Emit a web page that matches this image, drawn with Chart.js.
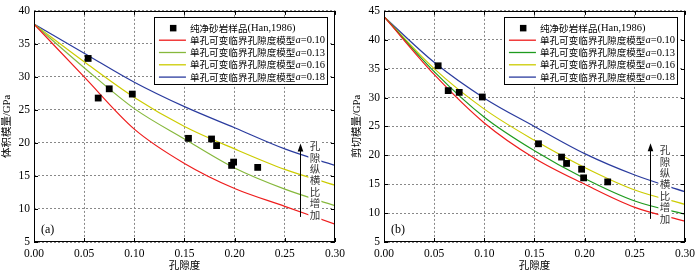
<!DOCTYPE html>
<html>
<head>
<meta charset="utf-8">
<script src="https://cdn.jsdelivr.net/npm/chart.js@4.4.0/dist/chart.umd.min.js"></script>
<style>
  html, body { margin: 0; padding: 0; background: #fff; }
  #wrap { display: flex; width: 700px; height: 273px; }
  canvas { display: block; }
</style>
</head>
<body>
<div id="wrap">
  <canvas id="bulkChart" width="350" height="273"></canvas>
  <canvas id="shearChart" width="350" height="273"></canvas>
</div>
<script>
// porosity grid of the model curves
const modelPorosity = [0, 0.05, 0.10, 0.15, 0.20, 0.25, 0.30];
const aspectRatios = ['0.10', '0.13', '0.16', '0.18'];

// bulk modulus (GPa) of the model, one array per aspect ratio
const bulkA010 = [38, 30.0, 22.1, 16.9, 13.1, 10.4, 7.7];
const bulkA013 = [38, 31.4, 25.2, 20.6, 16.2, 13.0, 10.5];
const bulkA016 = [38, 32.3, 26.9, 22.5, 19.1, 16.0, 13.6];
const bulkA018 = [38, 33.6, 29.2, 25.5, 22.3, 19.1, 16.6];

// shear modulus (GPa) of the model
const shearA010 = [44, 34.0, 25.6, 19.5, 15.0, 11.0, 8.6];
const shearA013 = [44, 34.5, 26.6, 20.8, 16.0, 12.1, 9.8];
const shearA016 = [44, 35.0, 28.0, 22.6, 17.9, 14.0, 11.5];
const shearA018 = [44, 36.1, 29.9, 25.0, 20.3, 16.6, 13.7];

// clean sandstone samples (Han, 1986)
const samplePorosity = [0.054, 0.064, 0.075, 0.098, 0.154, 0.177, 0.182, 0.197, 0.199, 0.223];
const sampleBulk = [32.8, 26.8, 28.2, 27.4, 20.7, 20.6, 19.6, 16.6, 17.1, 16.3];
const sampleShear = [35.5, 31.2, 30.9, 30.1, 22.0, 19.7, 18.6, 17.6, 16.1, 15.4];

const sampleLabel = '纯净砂岩样品(Han,1986)';
const modelLabel = '单孔可变临界孔隙度模型';
const xTitle = '孔隙度';
const noteText = '孔隙纵横比增加';

const latin = "'Liberation Serif', 'Times New Roman', serif";
const cjk = "'Noto Sans CJK SC', sans-serif";
const mixed = "'Liberation Serif', 'Noto Sans CJK SC', serif";

function toPoints(xs, ys) {
    return xs.map((x, i) => ({ x: x, y: ys[i] }));
}

// frame, inward ticks, legend box, arrow and titles
const decorPlugin = {
    id: 'decor',
    afterDraw(chart, args, opts) {
        const ctx = chart.ctx;
        const a = chart.chartArea;
        const xs = chart.scales.x, ys = chart.scales.y;
        ctx.save();

        // frame
        ctx.strokeStyle = '#000';
        ctx.lineWidth = 1;
        ctx.strokeRect(Math.round(a.left) + 0.5, Math.round(a.top) + 0.5,
            Math.round(a.right - a.left) - 1, Math.round(a.bottom - a.top) - 1);

        // inward tick marks on all four sides
        ctx.beginPath();
        xs.ticks.forEach(t => {
            const px = Math.round(xs.getPixelForValue(t.value)) + 0.5;
            ctx.moveTo(px, a.bottom); ctx.lineTo(px, a.bottom - 4);
            ctx.moveTo(px, a.top); ctx.lineTo(px, a.top + 4);
        });
        ys.ticks.forEach(t => {
            const py = Math.round(ys.getPixelForValue(t.value)) + 0.5;
            ctx.moveTo(a.left, py); ctx.lineTo(a.left + 4, py);
            ctx.moveTo(a.right, py); ctx.lineTo(a.right - 4, py);
        });
        ctx.stroke();

        // arrow
        const ax = Math.round(xs.getPixelForValue(opts.arrowX)) + 0.5;
        const ay0 = ys.getPixelForValue(opts.arrowFrom);
        const ay1 = ys.getPixelForValue(opts.arrowTo);
        ctx.beginPath();
        ctx.moveTo(ax, ay0); ctx.lineTo(ax, ay1 + 6);
        ctx.stroke();
        ctx.fillStyle = '#000';
        ctx.beginPath();
        ctx.moveTo(ax, ay1);
        ctx.lineTo(ax - 2.8, ay1 + 8);
        ctx.lineTo(ax + 2.8, ay1 + 8);
        ctx.closePath();
        ctx.fill();

        // vertical note with white background
        const nx = xs.getPixelForValue(opts.noteX);
        const ny = ys.getPixelForValue(opts.noteTop);
        const step = 11.4;
        const chars = Array.from(noteText);
        ctx.fillStyle = '#fff';
        ctx.fillRect(nx - 6.5, ny - 6.5, 13, step * (chars.length - 1) + 13);
        ctx.fillStyle = '#333';
        ctx.font = '10.5px ' + cjk;
        ctx.textAlign = 'center';
        ctx.textBaseline = 'middle';
        chars.forEach((c, i) => ctx.fillText(c, nx, ny + i * step));

        // legend box
        const w = 173, h = 67;
        const lx = a.right - 8 - w, ly = a.top + 6;
        ctx.fillStyle = '#fff';
        ctx.fillRect(lx, ly, w, h);
        ctx.strokeStyle = '#000';
        ctx.strokeRect(Math.round(lx) + 0.5, Math.round(ly) + 0.5, w, h);
        ctx.textAlign = 'left';
        ctx.textBaseline = 'middle';
        chart.data.datasets.forEach((ds, i) => {
            const ry = ly + 11 + i * 12.3;
            let head, tail;
            ctx.fillStyle = '#000';
            if (ds.showLine === false) {
                ctx.fillRect(lx + 16, ry - 3, 6.5, 6.5);
                const k = ds.label.indexOf('(');
                head = ds.label.slice(0, k);
                tail = ds.label.slice(k);
            } else {
                ctx.strokeStyle = ds.borderColor;
                ctx.lineWidth = 1.3;
                ctx.beginPath();
                ctx.moveTo(lx + 5, ry); ctx.lineTo(lx + 32, ry);
                ctx.stroke();
                const parts = ds.label.split('a=');
                head = parts[0];
                tail = '=' + parts[1];
            }
            let tx = lx + 36;
            ctx.font = '9.6px ' + cjk;
            ctx.fillText(head, tx, ry);
            tx += ctx.measureText(head).width;
            if (ds.showLine !== false) {
                ctx.font = 'italic 10.5px ' + latin;
                ctx.fillText('a', tx, ry + 0.5);
                tx += ctx.measureText('a').width;
            }
            ctx.font = '10.5px ' + latin;
            ctx.fillText(tail, tx, ry + 0.5);
        });

        // panel letter
        ctx.fillStyle = '#000';
        ctx.font = '12px ' + latin;
        ctx.fillText(opts.panel, a.left + 7, a.bottom - 12);

        // axis titles
        ctx.font = '10.5px ' + mixed;
        ctx.textAlign = 'center';
        ctx.fillText(xTitle, (a.left + a.right) / 2, 266);
        ctx.translate(7, (a.top + a.bottom) / 2);
        ctx.rotate(-Math.PI / 2);
        ctx.fillText(opts.yTitle, 0, 0);

        ctx.restore();
    }
};

function makeChart(id, curves, samples, yMin, yMax, green, decor) {
    const colors = ['#ee1c1c', green, '#cccc00', '#2a3b9e'];
    const datasets = [{
        label: sampleLabel,
        data: toPoints(samplePorosity, samples),
        showLine: false,
        pointStyle: 'rect',
        pointRadius: 4.8,
        pointBackgroundColor: '#000',
        pointBorderColor: '#000',
        pointBorderWidth: 0
    }];
    curves.forEach((c, i) => {
        datasets.push({
            label: modelLabel + 'a=' + aspectRatios[i],
            data: toPoints(modelPorosity, c),
            showLine: true,
            borderColor: colors[i],
            borderWidth: 1.2,
            pointRadius: 0,
            cubicInterpolationMode: 'monotone'
        });
    });

    new Chart(document.getElementById(id).getContext('2d'), {
        type: 'scatter',
        data: { datasets: datasets },
        plugins: [decorPlugin],
        options: {
            responsive: false,
            animation: false,
            layout: { padding: { top: 7, right: 10, left: 0, bottom: 0 } },
            plugins: {
                legend: { display: false },
                tooltip: { enabled: false },
                decor: decor
            },
            scales: {
                x: {
                    type: 'linear',
                    min: 0,
                    max: 0.3,
                    afterFit(s) { s.height = 31; },
                    ticks: {
                        stepSize: 0.05,
                        autoSkip: false,
                        maxRotation: 0,
                        padding: 5,
                        color: '#000',
                        font: { family: latin, size: 11.5 },
                        callback: v => v.toFixed(2)
                    },
                    grid: { color: '#888', lineWidth: 1, drawTicks: false },
                    border: { display: false, dash: [2, 2] }
                },
                y: {
                    min: yMin,
                    max: yMax,
                    afterFit(s) { s.width = 34; },
                    ticks: {
                        stepSize: 5,
                        padding: 4,
                        color: '#000',
                        font: { family: latin, size: 11.5 }
                    },
                    grid: { color: '#888', lineWidth: 1, drawTicks: false },
                    border: { display: false, dash: [2, 2] }
                }
            }
        }
    });
}

makeChart('bulkChart', [bulkA010, bulkA013, bulkA016, bulkA018], sampleBulk, 5, 40, '#86b83c', {
    panel: '(a)', yTitle: '体积模量/GPa',
    arrowX: 0.265, arrowFrom: 8.8, arrowTo: 19.9,
    noteX: 0.28, noteTop: 19.5
});
makeChart('shearChart', [shearA010, shearA013, shearA016, shearA018], sampleShear, 5, 45, '#1e9b1e', {
    panel: '(b)', yTitle: '剪切模量/GPa',
    arrowX: 0.265, arrowFrom: 9.0, arrowTo: 22.1,
    noteX: 0.28, noteTop: 20.9
});
</script>
</body>
</html>
